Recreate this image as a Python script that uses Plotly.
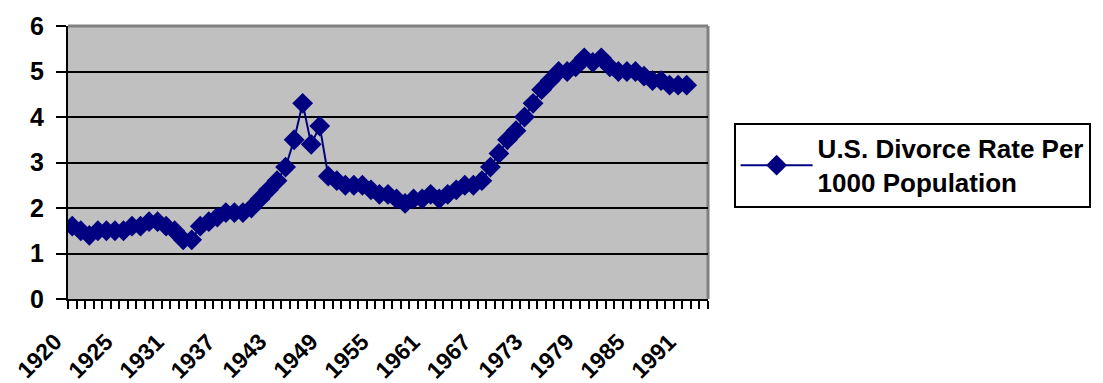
import plotly.graph_objects as go

# Category labels (one per category slot on the axis)
years = [1920, 1921, 1922, 1923, 1924, 1924, 1925, 1926, 1927, 1928,
         1929, 1930, 1931, 1932, 1933, 1934, 1935, 1936, 1937, 1938,
         1939, 1940, 1941, 1942, 1943, 1944, 1945, 1946, 1947, 1948,
         1949, 1950, 1951, 1952, 1953, 1954, 1955, 1956, 1957, 1958,
         1959, 1960, 1961, 1962, 1963, 1964, 1965, 1966, 1967, 1968,
         1969, 1970, 1971, 1972, 1973, 1974, 1975, 1976, 1977, 1978,
         1979, 1980, 1981, 1982, 1983, 1984, 1985, 1986, 1987, 1988,
         1989, 1990, 1991, 1992, 1993]

# U.S. divorce rate per 1000 population
rate = [1.6, 1.5, 1.4, 1.5, 1.5, 1.5,
        1.5, 1.6, 1.6, 1.7, 1.7, 1.6, 1.5, 1.3, 1.3,
        1.6, 1.7, 1.8, 1.9, 1.9, 1.9,
        2.0, 2.2, 2.4, 2.6, 2.9, 3.5, 4.3,
        3.4, 3.8, 2.7,
        2.6, 2.5, 2.5, 2.5, 2.4, 2.3, 2.3, 2.2, 2.1, 2.2, 2.2, 2.3, 2.2,
        2.3, 2.4, 2.5, 2.5, 2.6, 2.9, 3.2, 3.5, 3.7, 4.0, 4.3, 4.6, 4.8,
        5.0, 5.0, 5.1, 5.3, 5.2, 5.3,
        5.1, 5.0, 5.0, 5.0, 4.9, 4.8, 4.8, 4.7, 4.7, 4.7]

series_name = "U.S. Divorce Rate Per<br>1000 Population"
label_step = 6

positions = list(range(len(rate)))
label_idx = list(range(0, len(years), label_step))
label_text = [str(years[i]) for i in label_idx]

FONT = "Liberation Sans, Arial, sans-serif"
NAVY = "#000080"

fig = go.Figure()
fig.add_trace(go.Scatter(
    x=positions, y=rate, mode="lines+markers", name=series_name,
    line=dict(color=NAVY, width=2),
    marker=dict(symbol="diamond", size=16, color=NAVY, line=dict(width=0)),
))

# Rotated category labels, placed on the x scale like Excel does
annotations = [
    dict(x=i, y=0, xref="x", yref="y", text=t, showarrow=False,
         textangle=-45, xanchor="right", yanchor="top",
         xshift=-3, yshift=-27,
         font=dict(family=FONT, size=23, color="black", weight="bold"))
    for i, t in zip(label_idx, label_text)
]

fig.update_layout(
    width=1095, height=375,
    margin=dict(l=60, r=395, t=18, b=84, autoexpand=False),
    paper_bgcolor="white", plot_bgcolor="#C0C0C0",
    font=dict(family=FONT, color="black"),
    showlegend=True,
    legend=dict(
        x=1.04, y=0.645, xanchor="left", yanchor="top",
        bgcolor="white", bordercolor="black", borderwidth=2,
        font=dict(family=FONT, size=26, color="black", weight="bold"),
        itemwidth=72,
    ),
    annotations=annotations,
    shapes=[
        dict(type="line", xref="paper", yref="paper", x0=0, x1=1, y0=1, y1=1,
             line=dict(color="#808080", width=3), layer="between"),
        dict(type="line", xref="paper", yref="paper", x0=1, x1=1, y0=0, y1=1,
             line=dict(color="#808080", width=3), layer="between"),
    ],
)

fig.update_xaxes(
    range=[-0.5, len(years) - 0.5],
    tickmode="array", tickvals=label_idx, ticks="", showticklabels=False,
    showgrid=False, zeroline=False,
    showline=True, linecolor="black", linewidth=2,
    minor=dict(ticks="outside", tick0=-0.5, dtick=1, ticklen=8,
               tickwidth=2, tickcolor="black", showgrid=False),
)

fig.update_yaxes(
    range=[0, 6], dtick=1,
    ticks="outside", ticklen=10, tickwidth=2, tickcolor="black",
    tickfont=dict(family=FONT, size=25, color="black", weight="bold"),
    ticklabelstandoff=7,
    showgrid=True, gridcolor="black", gridwidth=2,
    zeroline=False,
    showline=True, linecolor="black", linewidth=2,
)

fig.write_html("out.html")
